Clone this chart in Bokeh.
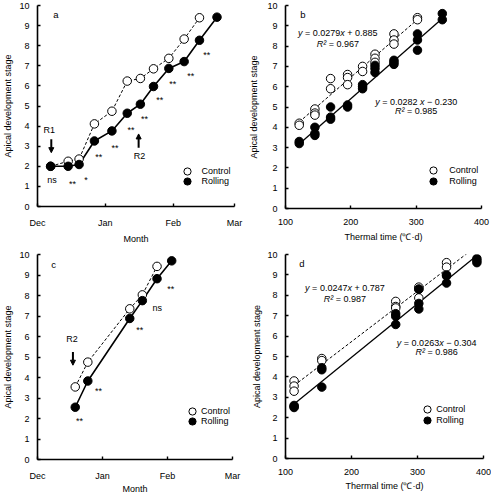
from bokeh.plotting import figure
from bokeh.models import (Range1d, FixedTicker, Label, Arrow, NormalHead, Legend,
                          LegendItem, ColumnDataSource)
from bokeh.layouts import column, row
from bokeh.core.properties import value
from bokeh.embed import file_html
from bokeh.resources import INLINE

# ---------------- data ----------------
month_labels = ["Dec", "Jan", "Feb", "Mar"]
a_month_ticks = [0, 31, 62, 90]        # days after 1 December
c_month_ticks = [0, 31, 62, 93]        # panel c: months drawn with equal widths
stage_ticks = [0, 1, 2, 3, 4, 5, 6, 7, 8, 9, 10]
tt_ticks = [100, 200, 300, 400]

# panel a (sampling date, days after 1 Dec)
a_days_control = [6, 14, 19, 26, 34, 41, 47, 53, 60, 67, 74]
a_stage_control = [2.0, 2.25, 2.36, 4.11, 4.74, 6.24, 6.37, 6.85, 7.37, 8.33, 9.39]
a_days_rolling = [6, 14, 19, 26, 34, 41, 47, 53, 60, 67, 74, 82]
a_stage_rolling = [2.0, 2.0, 2.09, 3.26, 3.76, 4.64, 5.09, 5.97, 6.87, 7.21, 8.27, 9.42]
a_sig = ["ns", "**", "*", "**", "**", "**", "**", "**", "**", "**", "**"]

# panel b (thermal time)
b_tt_control = [121, 121, 145, 145, 145, 169, 169, 195, 195, 195, 218, 218,
                237, 237, 237, 266, 266, 266, 302, 302]
b_stage_control = [4.2, 4.1, 4.9, 4.7, 4.6, 6.4, 5.9, 6.6, 6.45, 6.1, 7.0, 6.75,
                   7.6, 7.4, 7.2, 8.6, 8.3, 8.1, 9.4, 9.3]
b_tt_rolling = [121, 121, 145, 145, 145, 169, 169, 169, 195, 195, 218, 218, 218,
                237, 237, 237, 266, 266, 266, 302, 302, 302, 340, 340]
b_stage_rolling = [3.3, 3.2, 4.0, 3.7, 3.6, 5.0, 4.5, 4.4, 5.1, 5.0, 6.1, 6.0, 5.9,
                   7.05, 6.9, 6.7, 7.3, 7.2, 7.1, 8.6, 8.3, 7.8, 9.6, 9.3]
b_fit_control = (0.0279, 0.885)
b_fit_rolling = (0.0282, -0.230)
b_eq_control = [("y", True), (" = 0.0279", False), ("x", True), (" + 0.885", False)]
b_r2_control = [("R²", True), (" = 0.967", False)]
b_eq_rolling = [("y", True), (" = 0.0282 ", False), ("x", True), (" − 0.230", False)]
b_r2_rolling = [("R²", True), (" = 0.985", False)]

# panel c
c_days_control = [18, 24, 44, 50, 57]
c_stage_control = [3.54, 4.75, 7.35, 8.03, 9.42]
c_days_rolling = [18, 24, 44, 50, 57, 64]
c_stage_rolling = [2.55, 3.83, 6.88, 7.75, 8.82, 9.69]
c_sig = ["**", "**", "**", "ns", "**"]

# panel d
d_tt_control = [113, 113, 113, 155, 155, 267, 267, 267, 302, 302, 302, 344, 344]
d_stage_control = [3.8, 3.55, 3.3, 4.9, 4.8, 7.7, 7.45, 7.38, 8.4, 8.3, 7.87, 9.6, 9.38]
d_tt_rolling = [113, 113, 113, 155, 155, 155, 267, 267, 267, 302, 302, 302,
                344, 344, 344, 390, 390, 390]
d_stage_rolling = [2.6, 2.55, 2.5, 4.45, 4.35, 3.5, 7.1, 6.97, 6.57, 8.3, 7.6, 7.33,
                   9.0, 8.95, 8.6, 9.8, 9.7, 9.6]
d_fit_control = (0.0247, 0.787)
d_fit_rolling = (0.0263, -0.304)
d_eq_control = [("y", True), (" = 0.0247", False), ("x", True), (" + 0.787", False)]
d_r2_control = [("R²", True), (" = 0.987", False)]
d_eq_rolling = [("y", True), (" = 0.0263", False), ("x", True), (" − 0.304", False)]
d_r2_rolling = [("R²", True), (" = 0.986", False)]

# ---------------- style helpers ----------------
FONT = "Liberation Sans"
W = {'0': 556, '1': 556, '2': 556, '3': 556, '4': 556, '5': 556, '6': 556, '7': 556,
     '8': 556, '9': 556, '.': 278, ' ': 278, '=': 584, '+': 584, '−': 584,
     'x': 500, 'y': 500, 'R': 722, '²': 333}


def tw(s, fs):
    return sum(W.get(ch, 556) for ch in s) * fs / 1000.0


def make_fig(fw, fh, l, r, t, b, xr, xticks, xlabel, xlab_overrides=None,
             xl_stand=7, xal_stand=3, yal_stand=5):
    p = figure(frame_width=fw, frame_height=fh, min_border_left=l, min_border_right=r,
               min_border_top=t, min_border_bottom=b, x_range=Range1d(*xr),
               y_range=Range1d(0, 10), toolbar_location=None, tools="",
               output_backend="svg")
    p.outline_line_color = None
    p.grid.visible = False
    p.background_fill_color = "white"
    p.border_fill_color = "white"
    p.xaxis.ticker = FixedTicker(ticks=xticks)
    if xlab_overrides:
        p.xaxis.major_label_overrides = xlab_overrides
    p.yaxis.ticker = FixedTicker(ticks=stage_ticks)
    for ax in (p.xaxis[0], p.yaxis[0]):
        ax.axis_line_width = 1.6
        ax.axis_line_color = "black"
        ax.major_tick_line_width = 1.4
        ax.major_tick_line_color = "black"
        ax.minor_tick_line_color = None
        ax.major_tick_in = 3
        ax.major_tick_out = 0
        ax.major_label_text_font = FONT
        ax.major_label_text_font_size = "9px"
        ax.major_label_text_color = "black"
        ax.axis_label_text_font = FONT
        ax.axis_label_text_font_size = "9px"
        ax.axis_label_text_font_style = "normal"
        ax.axis_label_text_color = "black"
    p.xaxis.major_label_standoff = xl_stand
    p.xaxis.axis_label_standoff = xal_stand
    p.xaxis.axis_label = xlabel
    p.yaxis.major_label_standoff = 8
    p.yaxis.axis_label_standoff = yal_stand
    p.yaxis.axis_label = "Apical development stage"
    return p


def add_points(p, xc, yc, xr_, yr_, size=8.5):
    rc = p.scatter(xc, yc, marker="circle", size=size, fill_color="white",
                   line_color="black", line_width=1)
    rr = p.scatter(xr_, yr_, marker="circle", size=size, fill_color="black",
                   line_color="black", line_width=1)
    return rc, rr


def add_legend(p, rc, rr, cx, ys, gw=18, standoff=0):
    for lab, r, yc in (("Control", rc, ys[0]), ("Rolling", rr, ys[1])):
        lg = Legend(items=[LegendItem(label=lab, renderers=[r])],
                    location=(cx - gw / 2.0, yc - gw / 2.0),
                    glyph_width=gw, glyph_height=gw, label_height=gw,
                    label_standoff=standoff, padding=0, margin=0, spacing=0,
                    background_fill_alpha=0, border_line_alpha=0,
                    label_text_font=FONT, label_text_font_size="9px",
                    label_text_color="black")
        p.add_layout(lg)


def rich(p, x, y, parts, fs=9):
    total = sum(tw(t, fs) for t, _ in parts)
    off = -total / 2.0
    for t, it in parts:
        s = t.strip()
        lead = len(t) - len(t.lstrip())
        p.add_layout(Label(x=x, y=y, x_offset=off + lead * W[' '] * fs / 1000.0,
                           text=s, text_font=FONT, text_font_size=f"{fs}px",
                           text_font_style="italic" if it else "normal",
                           text_align="left", text_baseline="middle",
                           text_color="black"))
        off += tw(t, fs)


def letter(p, x, y, t):
    p.add_layout(Label(x=x, y=y, text=t, text_font=FONT, text_font_size="9.5px",
                       text_align="center", text_baseline="middle", text_color="black"))


def sig_labels(p, xs, ys, labels, dx, dy):
    src = ColumnDataSource(dict(x=xs[:len(labels)], y=ys[:len(labels)], t=labels,
                                dx=dx, dy=dy))
    p.text(x="x", y="y", text="t", x_offset="dx", y_offset="dy", source=src,
           text_font=value(FONT), text_font_size="9px", text_align="center",
           text_baseline="alphabetic", text_color="black")


def arrow(p, x, y0, y1):
    p.add_layout(Arrow(end=NormalHead(size=5, fill_color="black", line_color="black",
                                      line_width=1),
                       x_start=x, y_start=y0, x_end=x, y_end=y1,
                       line_width=2, line_color="black"))


def note(p, x, y, t):
    p.add_layout(Label(x=x, y=y, text=t, text_font=FONT, text_font_size="9px",
                       text_align="center", text_baseline="middle", text_color="black"))


a_month_over = {k: v for k, v in zip(a_month_ticks, month_labels)}
c_month_over = {k: v for k, v in zip(c_month_ticks, month_labels)}

# ---------------- panel a ----------------
pa = make_fig(197, 201, 34, 12, 5, 38, (a_month_ticks[0], a_month_ticks[-1]),
              a_month_ticks, "Month", a_month_over,
              xl_stand=11, xal_stand=3, yal_stand=3)
pa.line(a_days_control, a_stage_control, line_color="black", line_width=1, line_dash="3 2")
pa.line(a_days_rolling, a_stage_rolling, line_color="black", line_width=1.6)
rc, rr = add_points(pa, a_days_control, a_stage_control, a_days_rolling, a_stage_rolling)
sig_labels(pa, a_days_rolling, a_stage_rolling, a_sig,
           [1.3, 4.3, 7, 4.3, 3, 3.7, 4, 6.3, 4, 6.7, 7.3],
           [13.6, 17.5, 15.2, 16.2, 16.9, 16.5, 15.2, 13.5, 15.5, 14.2, 14.5])
note(pa, a_days_rolling[0] - 0.6, 3.83, "R1")
arrow(pa, a_days_rolling[0] + 0.3, 3.35, 2.68)
note(pa, a_days_rolling[6] - 0.4, 2.52, "R2")
arrow(pa, a_days_rolling[6] - 0.8, 2.92, 3.61)
letter(pa, 8.4, 9.55, "a")
add_legend(pa, rc, rr, 149.6, (35.5, 25.0), standoff=6)

# ---------------- panel b ----------------
pb = make_fig(196, 203, 37, 10, 5, 36, (tt_ticks[0], tt_ticks[-1]), tt_ticks,
              "Thermal time (℃·d)", xl_stand=10, xal_stand=4, yal_stand=5)
xs = [min(b_tt_control), max(b_tt_control)]
pb.line(xs, [b_fit_control[0] * v + b_fit_control[1] for v in xs],
        line_color="black", line_width=1, line_dash="3 2")
xs = [min(b_tt_rolling), max(b_tt_rolling)]
pb.line(xs, [b_fit_rolling[0] * v + b_fit_rolling[1] for v in xs],
        line_color="black", line_width=1.3)
rc, rr = add_points(pb, b_tt_control, b_stage_control, b_tt_rolling, b_stage_rolling)
rich(pb, 180, 8.63, b_eq_control)
rich(pb, 180, 8.1, b_r2_control)
rich(pb, 300, 5.24, b_eq_rolling)
rich(pb, 300, 4.78, b_r2_rolling)
letter(pb, 126.5, 9.56, "b")
add_legend(pb, rc, rr, 148.3, (38.0, 26.7), standoff=7)

# ---------------- panel c ----------------
pc = make_fig(195, 205, 32, 16, 7, 35, (c_month_ticks[0], c_month_ticks[-1]),
              c_month_ticks, "Month", c_month_over,
              xl_stand=11, xal_stand=0, yal_stand=3)
pc.line(c_days_control, c_stage_control, line_color="black", line_width=1, line_dash="3 2")
pc.line(c_days_rolling, c_stage_rolling, line_color="black", line_width=1.6)
rc, rr = add_points(pc, c_days_control, c_stage_control, c_days_rolling, c_stage_rolling)
sig_labels(pc, c_days_rolling, c_stage_rolling, c_sig,
           [4.3, 10.7, 10, 15, 13.7],
           [14.2, 10.2, 11.5, 7.0, 10.2])
note(pc, c_days_rolling[0] - 1.5, 5.87, "R2")
arrow(pc, c_days_rolling[0] - 1.1, 5.25, 4.6)
letter(pc, 7.7, 9.5, "c")
add_legend(pc, rc, rr, 155.0, (48.0, 38.0), standoff=0)

# ---------------- panel d ----------------
pd_ = make_fig(198, 204, 37, 8, 8, 35, (tt_ticks[0], tt_ticks[-1]), tt_ticks,
               "Thermal time (℃·d)", xl_stand=10, xal_stand=3, yal_stand=2)
xs = [min(d_tt_control), max(d_tt_rolling)]
pd_.line(xs, [d_fit_control[0] * v + d_fit_control[1] for v in xs],
         line_color="black", line_width=1, line_dash="3 2")
xs = [min(d_tt_rolling), max(d_tt_rolling)]
pd_.line(xs, [d_fit_rolling[0] * v + d_fit_rolling[1] for v in xs],
         line_color="black", line_width=1.3)
rc, rr = add_points(pd_, d_tt_control, d_stage_control, d_tt_rolling, d_stage_rolling)
rich(pd_, 190, 8.36, d_eq_control)
rich(pd_, 190, 7.82, d_r2_control)
rich(pd_, 329, 5.68, d_eq_rolling)
rich(pd_, 329, 5.22, d_r2_rolling)
letter(pd_, 124.7, 9.57, "d")
add_legend(pd_, rc, rr, 142.2, (48.8, 38.0), standoff=0)

layout = column(row(pa, pb), row(pc, pd_))
open("out.html", "w").write(file_html(layout, INLINE, "Apical development"))
